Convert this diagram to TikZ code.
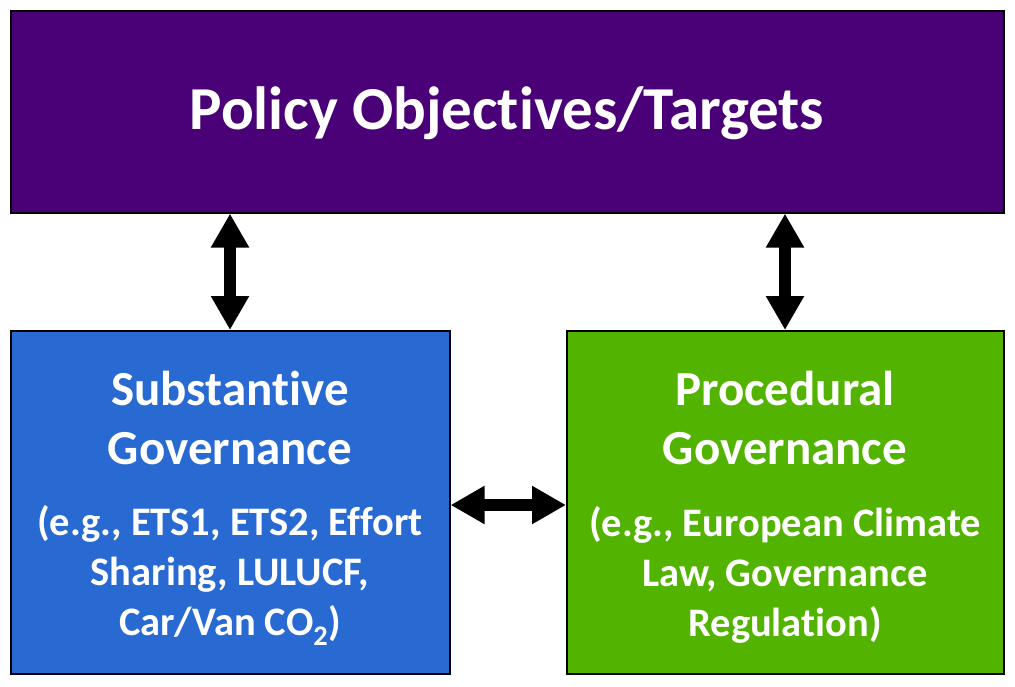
\documentclass[tikz,border=0pt]{standalone}
\usepackage{fontspec}
\setmainfont{Carlito}[Ligatures={NoCommon}]
\usepackage{tikz}
\usetikzlibrary{arrows.meta,positioning,shadows}
\definecolor{objpurple}{RGB}{74,0,118}
\definecolor{subblue}{RGB}{40,106,210}
\definecolor{procgreen}{RGB}{82,180,0}

\begin{document}
\begin{tikzpicture}[
  x=1pt, y=-1pt,
  every node/.style={font=\bfseries, text=white},
  box/.style={draw=black, line width=1.6pt, anchor=north west, inner sep=0pt,
              drop shadow={shadow xshift=1pt, shadow yshift=-1.5pt, fill=gray!70, opacity=1}},
  head/.style={align=center, font=\fontsize{49}{59}\selectfont\bfseries},
  eg/.style={align=center, font=\fontsize{40.5}{50}\selectfont\bfseries},
  link/.style={line width=12pt, {Triangle[length=34pt, width=36pt]}-{Triangle[length=34pt, width=36pt]}}
]
  \useasboundingbox (0,0) rectangle (1015,687);
  \node[box, fill=objpurple, minimum width=993pt, minimum height=202pt] (obj) at (10,10) {};
  \node[box, fill=subblue, minimum width=439pt, minimum height=343pt] (subst) at (10,330) {};
  \node[box, fill=procgreen, minimum width=437pt, minimum height=343pt] (proc) at (566,330) {};

  \node[font=\fontsize{61}{70}\selectfont\bfseries] (objtxt) at (507,113) {Policy Objectives/Targets};

  \node[head] (substhead) at (230,418) {Substantive\\Governance};
  \node[eg] (substeg) at (230,575) {(e.g., ETS1, ETS2, Effort\\Sharing, LULUCF,\\Car/Van CO\textsubscript{2})};
  \node[head] (prochead) at (785,418) {Procedural\\Governance};
  \node[eg] (proceg) at (785,575) {(e.g., European Climate\\Law, Governance\\Regulation)};

  \draw[link] (obj.south -| substhead) -- (subst.north -| substhead);
  \draw[link] (obj.south -| prochead) -- (proc.north -| prochead);
  \draw[link] (subst.east |- 0,505) -- (proc.west |- 0,505);
\end{tikzpicture}
\end{document}
